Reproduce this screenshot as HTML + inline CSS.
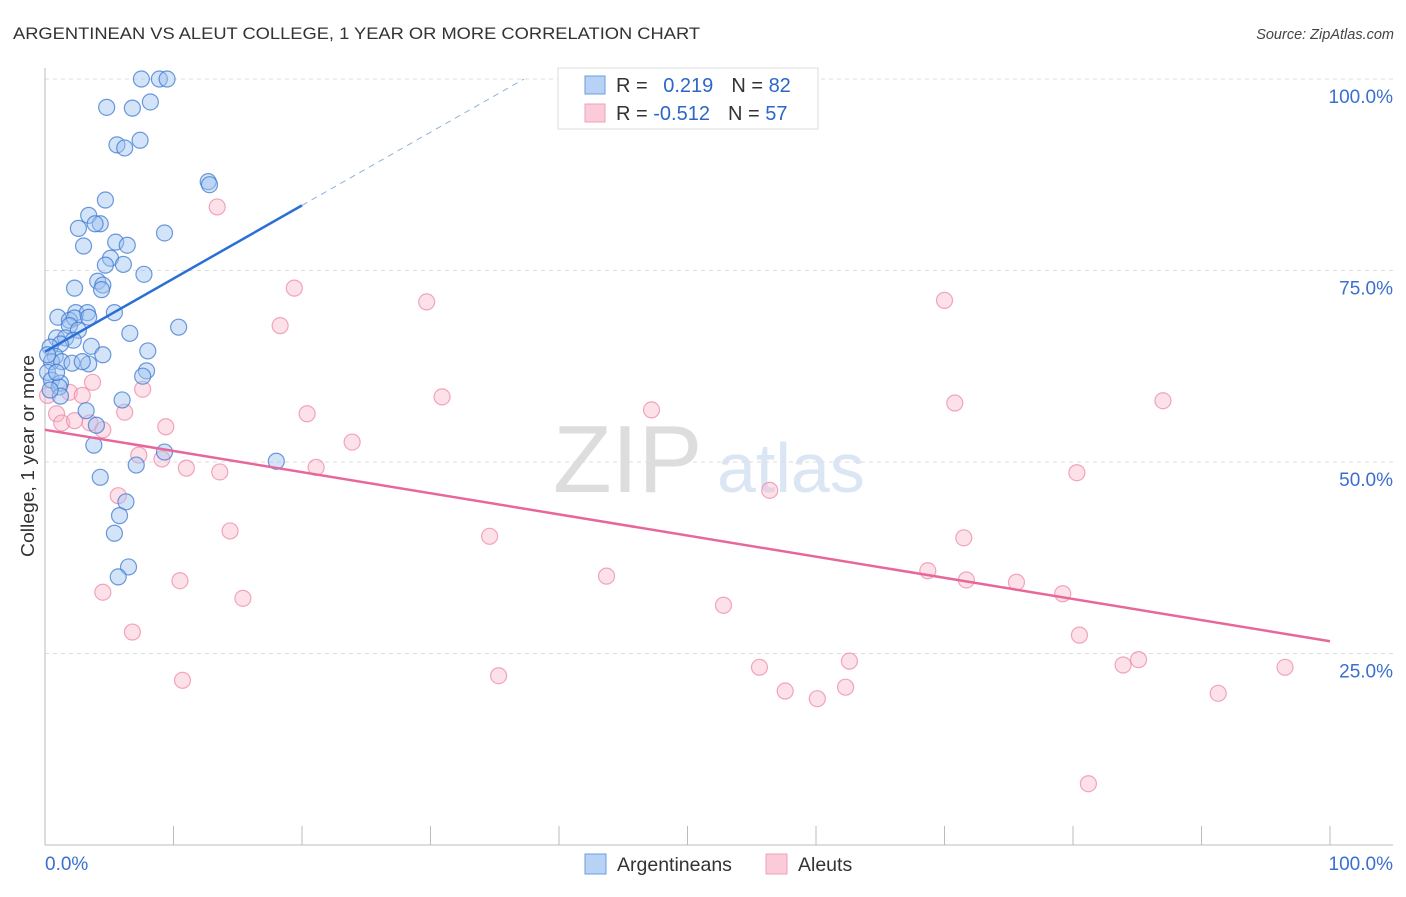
<!DOCTYPE html>
<html><head><meta charset="utf-8"><style>
body{margin:0;background:#fff;font-family:"Liberation Sans",sans-serif}
svg text{font-family:"Liberation Sans",sans-serif}
</style></head><body>
<svg id="c" width="1406" height="892">
<text x="13" y="39" font-size="17" fill="#333" textLength="687" lengthAdjust="spacingAndGlyphs">ARGENTINEAN VS ALEUT COLLEGE, 1 YEAR OR MORE CORRELATION CHART</text>
<text x="1394" y="39" font-size="14.5" fill="#444" font-style="italic" text-anchor="end">Source: ZipAtlas.com</text>
<text transform="translate(34,456) rotate(-90)" font-size="18" fill="#333" text-anchor="middle" textLength="202" lengthAdjust="spacingAndGlyphs">College, 1 year or more</text>
<g><text x="553" y="492" font-size="96" fill="#ddd" font-family="Liberation Serif,serif">ZIP</text><text x="717" y="492" font-size="70" fill="#dbe6f5">atlas</text></g>
<g id="grid"></g><g id="marks"></g>
<g>
<rect x="558" y="68" width="260" height="61" fill="#fff" stroke="#ddd"/>
<rect x="585" y="76" width="20" height="18" fill="#b7d2f5" stroke="#6a9de0"/>
<rect x="585" y="104" width="20" height="18" fill="#fbcbd9" stroke="#eea3bb"/>
<text x="616" y="92" font-size="20" fill="#333">R = <tspan fill="#2c66c9" dx="10">0.219</tspan><tspan dx="18" fill="#333">N = </tspan><tspan fill="#2c66c9">82</tspan></text>
<text x="616" y="120" font-size="20" fill="#333">R = <tspan fill="#2c66c9">-0.512</tspan><tspan dx="18" fill="#333">N = </tspan><tspan fill="#2c66c9">57</tspan></text>
</g>
<g>
<rect x="585" y="854" width="21" height="20" fill="#b7d2f5" stroke="#6a9de0"/>
<text x="617" y="871" font-size="19.5" fill="#333">Argentineans</text>
<rect x="766" y="854" width="21" height="20" fill="#fbcbd9" stroke="#eea3bb"/>
<text x="798" y="871" font-size="19.5" fill="#333">Aleuts</text>
</g>
</svg>
<script>
const yTicks=[100,75,50,25];
const yTickLabels=["100.0%","75.0%","50.0%","25.0%"];
const xTicks=[0,10,20,30,40,50,60,70,80,90,100];
const blueX=[7.5,8.9,9.5,4.8,6.8,8.2,5.6,6.2,7.4,12.7,12.8,4.7,3.4,2.6,4.3,3.9,9.3,3.0,5.5,6.4,5.1,4.7,6.1,7.7,2.3,4.1,4.5,4.4,2.4,1.0,3.3,5.4,1.9,2.3,1.9,2.6,3.4,10.4,6.6,0.9,1.6,2.2,1.2,0.4,3.6,8.0,0.8,4.5,0.5,1.3,2.1,3.4,2.9,7.9,7.6,0.2,0.5,1.2,1.1,1.2,6.0,3.2,4.0,3.8,9.3,7.1,18.0,4.3,6.3,5.8,5.4,6.5,5.7,0.4,0.2,0.9];
const blueY=[100,100,100,96.3,96.2,97.0,91.4,91.0,92.0,86.6,86.2,84.2,82.2,80.5,81.1,81.1,79.9,78.2,78.7,78.3,76.6,75.7,75.8,74.5,72.7,73.6,73.1,72.5,69.5,68.9,69.5,69.5,68.5,68.8,67.8,67.2,68.9,67.6,66.8,66.2,66.2,65.9,65.4,65.0,65.1,64.5,63.8,64.0,63.1,63.1,62.9,62.8,63.1,61.9,61.2,61.7,60.7,60.3,59.8,58.6,58.1,56.7,54.8,52.2,51.3,49.6,50.1,48.0,44.8,43.0,40.7,36.3,35.0,59.4,64.0,61.7];
const pinkX=[13.4,19.4,29.7,70.0,18.3,3.7,7.6,1.9,2.9,30.9,70.8,87.0,0.9,6.2,20.4,47.2,1.3,2.3,3.5,4.5,9.4,23.9,7.3,9.1,11.0,13.6,21.1,80.3,56.4,5.7,14.4,34.6,71.5,10.5,43.7,68.7,71.7,75.6,79.2,4.5,15.4,52.8,6.8,80.5,62.6,85.1,83.9,55.6,96.5,10.7,35.3,57.6,60.1,62.3,91.3,81.2,0.2];
const pinkY=[83.3,72.7,70.9,71.1,67.8,60.4,59.5,59.1,58.7,58.5,57.7,58.0,56.3,56.5,56.3,56.8,55.1,55.4,55.1,54.2,54.6,52.6,50.9,50.4,49.2,48.7,49.3,48.6,46.3,45.6,41.0,40.3,40.1,34.5,35.1,35.8,34.6,34.3,32.8,33.0,32.2,31.3,27.8,27.4,24.0,24.2,23.5,23.2,23.2,21.5,22.1,20.1,19.1,20.6,19.8,8.0,58.7];
const blueTrend=[64.4,83.5];
const pinkTrend=[54.2,26.6];
const NS="http://www.w3.org/2000/svg";
const X=v=>45+v*12.85, Y=v=>845-v*7.66;
function mk(p,t,a){const e=document.createElementNS(NS,t);for(const k in a)e.setAttribute(k,a[k]);p.appendChild(e);return e;}
const g=document.getElementById('grid'),m=document.getElementById('marks');
yTicks.forEach((t,i)=>{
 const l=mk(g,'line',{x1:45,x2:1393,y1:Y(t),y2:Y(t),stroke:'#ddd','stroke-dasharray':'4,4'});
 
 
 const tx=mk(g,'text',{x:1393,y:Y(t)+24,'font-size':19,fill:'#3a6fd0','text-anchor':'end'});tx.textContent=yTickLabels[i];
 
 
});
mk(g,'line',{x1:45,x2:45,y1:68,y2:845,stroke:'#bbb'});
mk(g,'line',{x1:45,x2:1393,y1:845,y2:845,stroke:'#bbb'});
xTicks.forEach(t=>{const l=mk(g,'line',{x1:X(t),x2:X(t),y1:826,y2:845,stroke:'#bbb'});
 
 });
const a=mk(g,'text',{x:45,y:870,'font-size':19,fill:'#3a6fd0'});a.textContent='0.0%';


const b=mk(g,'text',{x:1393,y:870,'font-size':19,fill:'#3a6fd0','text-anchor':'end'});b.textContent='100.0%';


pinkX.forEach((x,i)=>{const c=mk(m,'circle',{cx:X(x),cy:Y(pinkY[i]),r:8,fill:'rgba(249,180,200,0.4)',stroke:'rgba(236,130,165,0.7)','stroke-width':1.2});
 
 });
blueX.forEach((x,i)=>{const c=mk(m,'circle',{cx:X(x),cy:Y(blueY[i]),r:8,fill:'rgba(160,196,240,0.45)',stroke:'rgba(60,120,210,0.75)','stroke-width':1.2});
 
 });
const bs=(blueTrend[1]-blueTrend[0])/20, xe=(100-blueTrend[0])/bs;
const l1=mk(m,'line',{x1:X(0),y1:Y(blueTrend[0]),x2:X(20),y2:Y(blueTrend[1]),stroke:'#2b6fd6','stroke-width':2.5});


const l2=mk(m,'line',{x1:X(20),y1:Y(blueTrend[1]),x2:X(xe),y2:Y(100),stroke:'#8fb0e0','stroke-width':1,'stroke-dasharray':'6,5'});


const l3=mk(m,'line',{x1:X(0),y1:Y(pinkTrend[0]),x2:X(100),y2:Y(pinkTrend[1]),stroke:'#e8679a','stroke-width':2.5});


</script>
</body></html>
